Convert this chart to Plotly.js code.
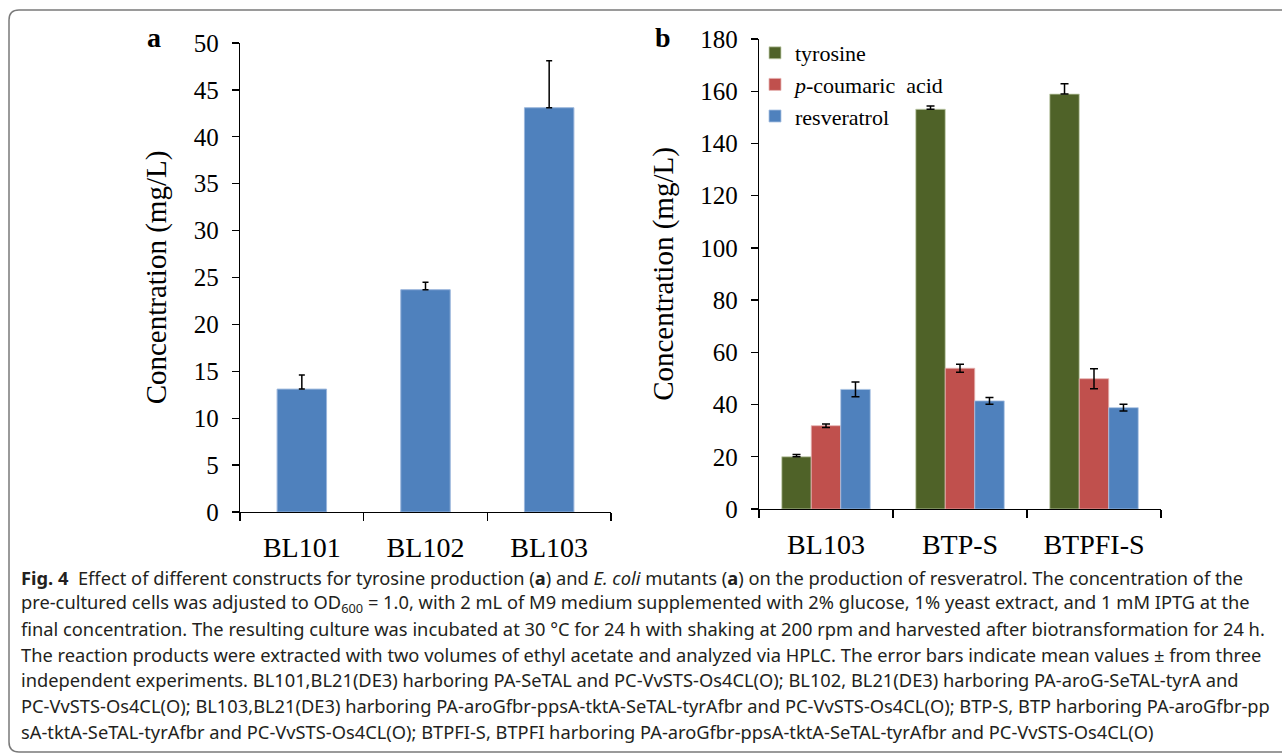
<!DOCTYPE html>
<html>
<head>
<meta charset="utf-8">
<script src="https://cdn.plot.ly/plotly-3.0.1.min.js"></script>
<style>
  html, body { margin: 0; padding: 0; background: #ffffff; }
  #chart { width: 1282px; height: 755px; }
</style>
</head>
<body>
<div id="chart"></div>
<script>
// ---- Data (panel a) ----
const strainsA = ['BL101', 'BL102', 'BL103'];
const concentrationA = [13.1, 23.7, 43.1];
const errorA = [1.5, 0.8, 5.0];
const yTicksA = [0, 5, 10, 15, 20, 25, 30, 35, 40, 45, 50];

// ---- Data (panel b) ----
const strainsB = ['BL103', 'BTP-S', 'BTPFI-S'];
const tyrosine = [20.0, 153.1, 158.9];
const tyrosineErr = [0.9, 1.2, 4.0];
const coumaricAcid = [31.9, 53.9, 49.9];
const coumaricAcidErr = [0.7, 1.5, 3.8];
const resveratrol = [45.8, 41.4, 38.8];
const resveratrolErr = [2.8, 1.3, 1.3];
const yTicksB = [0, 20, 40, 60, 80, 100, 120, 140, 160, 180];
const seriesNames = ['tyrosine', '<i>p</i>-coumaric\u00a0 acid', 'resveratrol'];

// ---- Caption ----
const captionLines = [
  '<b>Fig. 4</b>\u00a0 Effect of different constructs for tyrosine production (<b>a</b>) and <i>E. coli</i> mutants (<b>a</b>) on the production of resveratrol. The concentration of the',
  'pre-cultured cells was adjusted to OD<sub>600</sub>\u00a0=\u00a01.0, with 2 mL of M9 medium supplemented with 2% glucose, 1% yeast extract, and 1 mM IPTG at the',
  'final concentration. The resulting culture was incubated at 30 °C for 24 h with shaking at 200 rpm and harvested after biotransformation for 24 h.',
  'The reaction products were extracted with two volumes of ethyl acetate and analyzed via HPLC. The error bars indicate mean values\u00a0±\u00a0from three',
  'independent experiments. BL101,BL21(DE3) harboring PA-SeTAL and PC-VvSTS-Os4CL(O); BL102, BL21(DE3) harboring PA-aroG-SeTAL-tyrA and',
  'PC-VvSTS-Os4CL(O); BL103,BL21(DE3) harboring PA-aroGfbr-ppsA-tktA-SeTAL-tyrAfbr and PC-VvSTS-Os4CL(O); BTP-S, BTP harboring PA-aroGfbr-pp',
  'sA-tktA-SeTAL-tyrAfbr and PC-VvSTS-Os4CL(O); BTPFI-S, BTPFI harboring PA-aroGfbr-ppsA-tktA-SeTAL-tyrAfbr and PC-VvSTS-Os4CL(O)'
];

// ---- Layout helpers (pixel -> paper) ----
const W = 1282, H = 755;
const px = v => v / W;
const py = v => 1 - v / H;

const SERIF = 'Liberation Serif, Times New Roman, serif';
const COLORS = { tyr: '#4F6228', cou: '#C0504D', res: '#4F81BD' };
const zeros = arr => arr.map(() => 0);

const traces = [
  {
    type: 'bar', x: strainsA, y: concentrationA, xaxis: 'x', yaxis: 'y',
    width: 0.4, showlegend: false,
    marker: { color: COLORS.res, line: { color: '#9ab6dc', width: 1 } },
    error_y: { type: 'data', symmetric: false, array: errorA, arrayminus: zeros(errorA),
               color: '#000', thickness: 1.5, width: 3 }
  },
  {
    type: 'bar', name: seriesNames[0], x: strainsB, y: tyrosine, xaxis: 'x2', yaxis: 'y2',
    marker: { color: COLORS.tyr, line: { color: '#c5d0b0', width: 0.8 } },
    error_y: { type: 'data', symmetric: false, array: tyrosineErr, arrayminus: zeros(tyrosineErr),
               color: '#000', thickness: 1.5, width: 4 }
  },
  {
    type: 'bar', name: seriesNames[1], x: strainsB, y: coumaricAcid, xaxis: 'x2', yaxis: 'y2',
    marker: { color: COLORS.cou, line: { color: '#e6b4b3', width: 0.8 } },
    error_y: { type: 'data', array: coumaricAcidErr, color: '#000', thickness: 1.5, width: 4 }
  },
  {
    type: 'bar', name: seriesNames[2], x: strainsB, y: resveratrol, xaxis: 'x2', yaxis: 'y2',
    marker: { color: COLORS.res, line: { color: '#a9c1e2', width: 0.8 } },
    error_y: { type: 'data', array: resveratrolErr, color: '#000', thickness: 1.5, width: 4 }
  }
];

const yAxisCommon = {
  showline: true, linecolor: '#000', linewidth: 1.3, mirror: false,
  ticks: 'outside', ticklen: 7, tickcolor: '#000', tickwidth: 1.3,
  showgrid: false, zeroline: false, automargin: false,
  tickfont: { family: SERIF, size: 25, color: '#000' },
  ticklabelstandoff: 8,
  title: { font: { family: SERIF, size: 29, color: '#000' }, standoff: 18 }
};
const xAxisCommon = {
  showline: true, linecolor: '#000', linewidth: 1.3,
  ticks: 'outside', ticklen: 8, tickcolor: '#000', tickwidth: 1.3, tickson: 'boundaries',
  showgrid: false, zeroline: false, automargin: false,
  tickfont: { family: SERIF, size: 28, color: '#000' },
  ticklabelstandoff: 10
};

const annotations = [
  { text: '<b>a</b>', x: px(154), y: py(38), xref: 'paper', yref: 'paper', showarrow: false,
    xanchor: 'center', yanchor: 'middle', font: { family: SERIF, size: 28, color: '#000' } },
  { text: '<b>b</b>', x: px(663), y: py(38), xref: 'paper', yref: 'paper', showarrow: false,
    xanchor: 'center', yanchor: 'middle', font: { family: SERIF, size: 28, color: '#000' } }
];
const captionTop = 577, captionStep = 25.7;
captionLines.forEach((line, i) => {
  annotations.push({
    text: line, x: px(19), y: py(captionTop + i * captionStep), xref: 'paper', yref: 'paper',
    showarrow: false, xanchor: 'left', yanchor: 'middle', align: 'left',
    font: { family: 'Noto Sans, Open Sans, sans-serif', size: 18.3, color: '#231f20' }
  });
});

// rounded border frame (left, top, bottom visible; right side runs off the page)
const L = 9, T = 10, B = 752, R = 10;
const rx = R / W, ry = R / H;
const framePath = `M 1.02,${py(T)} L ${px(L) + rx},${py(T)} Q ${px(L)},${py(T)} ${px(L)},${py(T) - ry} ` +
  `L ${px(L)},${py(B) + ry} Q ${px(L)},${py(B)} ${px(L) + rx},${py(B)} L 1.02,${py(B)}`;

const layout = {
  width: W, height: H,
  margin: { l: 0, r: 0, t: 0, b: 0 },
  paper_bgcolor: '#ffffff', plot_bgcolor: 'rgba(0,0,0,0)',
  font: { family: SERIF, color: '#000' },
  barmode: 'group', bargap: 0.34, bargroupgap: 0,
  xaxis: Object.assign({}, xAxisCommon, { domain: [px(240), px(611)], anchor: 'y', range: [-0.5, 2.5] }),
  yaxis: Object.assign({}, yAxisCommon, { domain: [py(512), py(43)], anchor: 'x', range: [0, 50],
    tickvals: yTicksA, title: Object.assign({}, yAxisCommon.title, { text: 'Concentration (mg/L)' }) }),
  xaxis2: Object.assign({}, xAxisCommon, { domain: [px(759), px(1161)], anchor: 'y2', range: [-0.5, 2.5] }),
  yaxis2: Object.assign({}, yAxisCommon, { domain: [py(509), py(39)], anchor: 'x2', range: [0, 180],
    tickvals: yTicksB, title: Object.assign({}, yAxisCommon.title, { text: 'Concentration (mg/L)' }) }),
  showlegend: true,
  legend: {
    x: px(755), y: py(32), xanchor: 'left', yanchor: 'top',
    bgcolor: 'rgba(0,0,0,0)', borderwidth: 0,
    font: { family: SERIF, size: 22, color: '#000' },
    tracegroupgap: 0, itemclick: false, itemdoubleclick: false
  },
  annotations: annotations,
  shapes: [
    { type: 'path', xref: 'paper', yref: 'paper', path: framePath,
      line: { color: '#7a7a7a', width: 1.5 }, fillcolor: 'rgba(0,0,0,0)' }
  ]
};

Plotly.newPlot('chart', traces, layout, { staticPlot: true, displayModeBar: false });
</script>
</body>
</html>
